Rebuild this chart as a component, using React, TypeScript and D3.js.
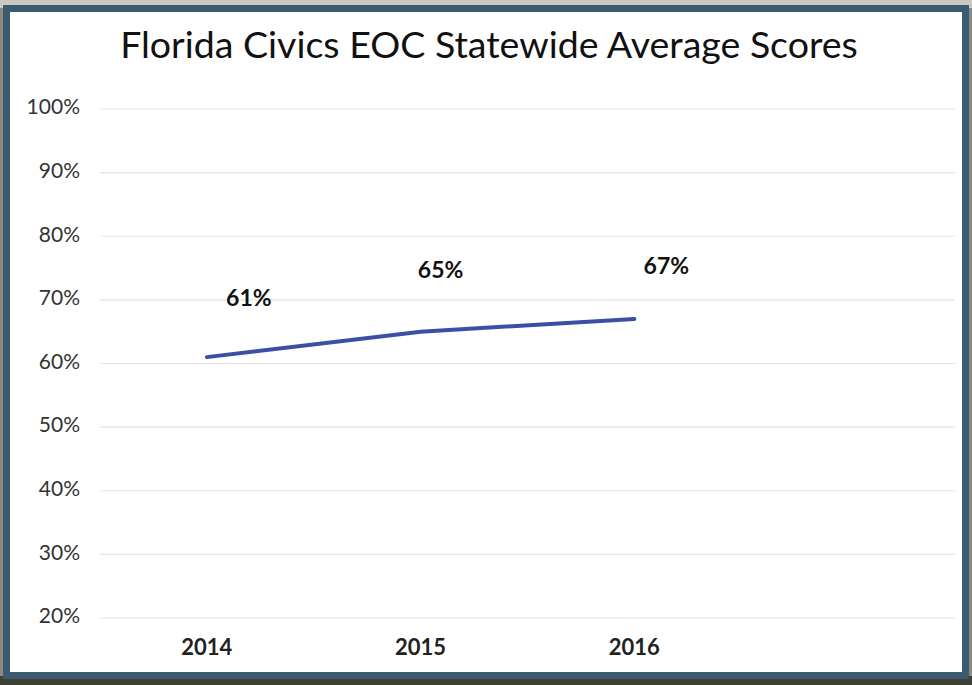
import React from 'react';
import * as d3 from 'd3';

const W = 972;
const H = 685;

const title = 'Florida Civics EOC Statewide Average Scores';
// the original chart keeps an empty fourth slot on the category axis
const years = ['2014', '2015', '2016', ''];
const scores = [61, 65, 67];
const scoreLabels = ['61%', '65%', '67%'];
const yTicks = [20, 30, 40, 50, 60, 70, 80, 90, 100];

const font = 'Lato, "Open Sans", sans-serif';
// label nudges [dx, dy] as placed in the source chart
const labelShift = [[42, -57], [20, -60], [32, -51]];

const App = () => {
  const x = d3.scaleBand().domain(years).range([100, 955]);
  const y = d3.scaleLinear().domain([20, 100]).range([618, 109]);

  const cx = (i) => x(years[i])! + x.bandwidth() / 2;

  const line = d3.line<number>()
    .x((d, i) => cx(i))
    .y((d) => y(d));

  return (
    <svg width={W} height={H} style={{ position: 'absolute', left: 0, top: 0, display: 'block' }}>
      <rect x={0} y={0} width={W} height={H} fill="#8c8a80" />
      <rect x={0} y={0} width={W} height={8} fill="#c9c8c3" />
      <rect x={0} y={676} width={W} height={9} fill="#3f4034" />
      <rect x={6.5} y={8.5} width={959} height={667} fill="#ffffff" stroke="#3d5a73" strokeWidth={7} />

      <text x={489} y={48} textAnchor="middle" dominantBaseline="middle" fontFamily={font} fontSize={37.5} fill="#111">
        {title}
      </text>

      <g className="grid">
        {yTicks.map((t) => (
          <line key={t} x1={100} x2={955} y1={y(t)} y2={y(t)} stroke="#e4e4e4" strokeWidth={1.2} />
        ))}
      </g>

      <g className="y-axis">
        {yTicks.map((t) => (
          <text key={t} x={80} y={y(t)} textAnchor="end" dominantBaseline="middle" fontFamily={font} fontSize={21} fill="#333">
            {t}%
          </text>
        ))}
      </g>

      <g className="x-axis">
        {years.filter((yr) => yr).map((yr, i) => (
          <text key={yr} x={cx(i)} y={649} textAnchor="middle" dominantBaseline="middle"
            fontFamily={font} fontWeight="bold" fontSize={22} fill="#222">
            {yr}
          </text>
        ))}
      </g>

      <path d={line(scores)!} fill="none" stroke="#3b4fa6" strokeWidth={4} strokeLinecap="round" />

      <g className="labels">
        {scores.map((s, i) => (
          <text key={i} x={cx(i) + labelShift[i][0]} y={y(s) + labelShift[i][1]}
            textAnchor="middle" dominantBaseline="middle" fontFamily={font} fontWeight="bold" fontSize={23} fill="#111">
            {scoreLabels[i]}
          </text>
        ))}
      </g>
    </svg>
  );
};

export default App;
